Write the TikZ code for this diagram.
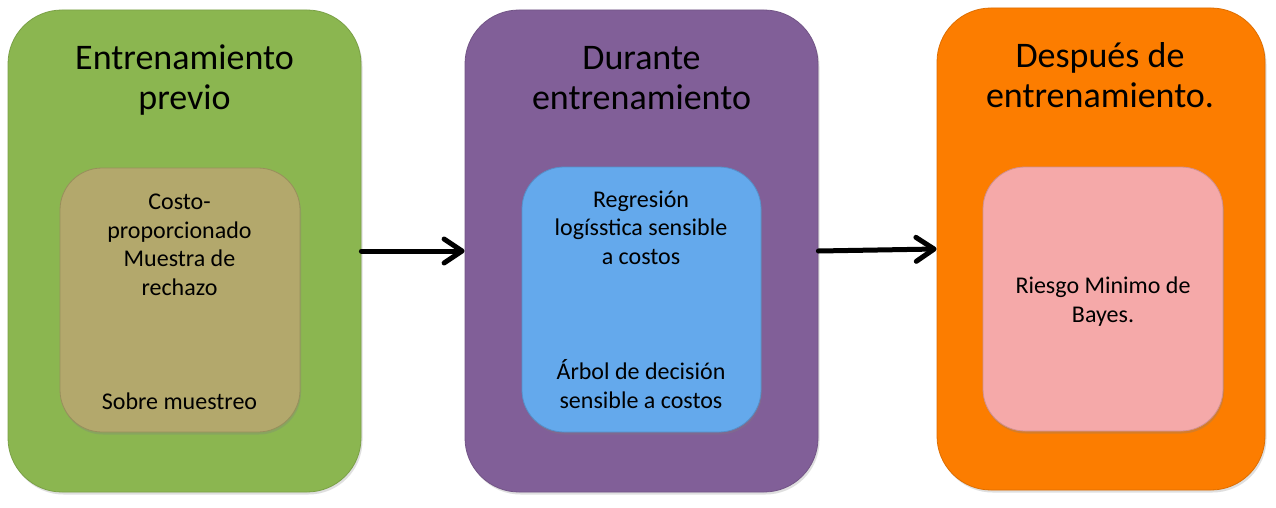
\documentclass[tikz,border=0pt]{standalone}
\usepackage{fontspec}
\setmainfont{Carlito}
\usetikzlibrary{arrows.meta,shadows}
\definecolor{cgreen}{HTML}{8BB650}
\definecolor{cpurple}{HTML}{815F98}
\definecolor{corange}{HTML}{FC7D00}
\definecolor{colive}{HTML}{B3A86C}
\definecolor{cblue}{HTML}{64A9EC}
\definecolor{cpink}{HTML}{F5A9A9}
\begin{document}
\begin{tikzpicture}[x=1pt,y=-1pt,
  outerbox/.style={draw=#1!88!black, line width=0.8pt, fill=#1, rounded corners=54pt, inner sep=0pt,
    drop shadow={opacity=0.25, shadow xshift=1.5pt, shadow yshift=-2.5pt}},
  innerbox/.style={draw=#1!85!black, line width=0.8pt, fill=#1, rounded corners=42pt, inner sep=0pt,
    drop shadow={opacity=0.3, shadow xshift=1pt, shadow yshift=-2.5pt}},
  titletext/.style={anchor=base, align=center, inner sep=0pt, font=\fontsize{36}{40}\selectfont},
  bodytext/.style={anchor=base, align=center, inner sep=0pt, font=\fontsize{24}{28.5}\selectfont},
  arr/.style={line width=5pt, line cap=round, -{Straight Barb[length=18pt, width=24pt, line cap=round, line join=round]}}
]
\useasboundingbox (0,0) rectangle (1276,508);
\fill[white] (0,0) rectangle (1276,508);

\node[outerbox=cgreen, minimum width=353pt, minimum height=482pt] (g) at (184.5,251) {};
\node[outerbox=cpurple, minimum width=353pt, minimum height=482pt] (p) at (641.5,251) {};
\node[outerbox=corange, minimum width=328pt, minimum height=482pt] (o) at (1101,249) {};

\node[innerbox=colive, minimum width=240pt, minimum height=264pt] (gi) at (180,300) {};
\node[innerbox=cblue, minimum width=239pt, minimum height=265pt] (pi) at (641.5,299.5) {};
\node[innerbox=cpink, minimum width=240pt, minimum height=264pt] (oi) at (1103,299) {};

\node[titletext] (gt) at (184.5,110) {Entrenamiento\\previo};
\node[titletext] (pt) at (641.5,110) {Durante\\entrenamiento};
\node[titletext] (ot) at (1100,108) {Después de\\entrenamiento.};

\node[bodytext] (g1) at (179.5,295) {Costo-\\proporcionado\\Muestra de\\rechazo};
\node[bodytext] (g2) at (179.5,409) {Sobre muestreo};
\node[bodytext] (p1) at (641,264) {Regresión\\logísstica sensible\\a costos};
\node[bodytext] (p2) at (641,408) {Árbol de decisión\\sensible a costos};
\node[bodytext] (o1) at (1103,322) {Riesgo Minimo de\\Bayes.};

\draw[arr] (g.east) -- (p.west);
\draw[arr] (p.east) -- (o.west);
\end{tikzpicture}
\end{document}
